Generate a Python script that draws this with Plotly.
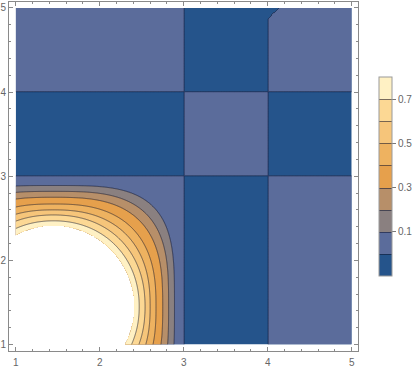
import numpy as np
import plotly.graph_objects as go

# ---------------- data ----------------
x_ticks = [1, 2, 3, 4, 5]
y_ticks = [1, 2, 3, 4, 5]
cbar_ticks = [0.1, 0.3, 0.5, 0.7]

# contour lines at 0.0 ... 0.7, colour bands from -0.1 to 0.8
line_start, line_end, line_step = 0.0, 0.7, 0.1
z_low, z_high = -0.1, 0.8

band_colors = ["#25548B", "#5B6C9B", "#8A8080", "#B78F69", "#E6A04C",
               "#EEB260", "#F6C57A", "#FCD894", "#FFF1C4"]

# piecewise-constant cells (boundaries at 3 and 4 on both axes)
x_breaks = [3.0, 4.0]
y_breaks = [3.0, 4.0]
cell_sign = np.array([[+1, -1, +1],
                      [-1, +1, -1],
                      [+1, -1, +1]])      # rows: y bands, cols: x bands
cell_value = 0.05
kink_y = 4.87                            # top of the x=4 boundary bends right

# bump in the lower-left cell: level, radius on the axis line, shape exponent
bump_center = 1.45
bump_levels = [0.8, 0.7, 0.6, 0.5, 0.4, 0.3, 0.2, 0.1]
bump_radius = [0.96, 1.02, 1.09, 1.15, 1.22, 1.30, 1.37, 1.44]
bump_shape = [2.0, 2.1, 2.2, 2.4, 2.6, 2.9, 3.2, 3.6]

# ---------------- build the field ----------------
xs = np.linspace(1, 5, 401)
ys = np.linspace(1, 5, 401)
X, Y = np.meshgrid(xs, ys)

ix = (X > x_breaks[0]).astype(int) + (X > x_breaks[1] + np.clip(Y - kink_y, 0, None)).astype(int)
iy = (Y > y_breaks[0]).astype(int) + (Y > y_breaks[1]).astype(int)
Z = cell_value * cell_sign[iy, ix].astype(float)

dx = np.abs(X - bump_center)
dy = np.abs(Y - bump_center)
H = np.stack([(dx ** p + dy ** p) ** (1.0 / p) / R for R, p in zip(bump_radius, bump_shape)])
lev = np.array(bump_levels)
bump = np.full(X.shape, np.nan)
outside_all = H[-1] >= 1
bump[outside_all] = np.maximum(cell_value, lev[-1] - (H[-1][outside_all] - 1) * 2.0)
for k in range(len(lev) - 1, 0, -1):
    sel = (H[k] < 1) & (H[k - 1] >= 1)
    t = (H[k - 1][sel] - 1) / (H[k - 1][sel] - H[k][sel])
    bump[sel] = lev[k - 1] + (lev[k] - lev[k - 1]) * t
# inside the highest contour -> above plotted range (left blank)
inner = (X < x_breaks[0]) & (Y < y_breaks[0])
Z[inner] = bump[inner]

n = len(band_colors) - 1
colorscale = [[i / n, c] for i, c in enumerate(band_colors)]

grey_axis = "#8a8a8a"
label_font = dict(family="Liberation Sans, Arial, sans-serif", size=10, color="#666666")

fig = go.Figure(go.Contour(
    x=xs, y=ys, z=Z,
    zmin=z_low, zmax=z_high, zauto=False,
    colorscale=colorscale,
    connectgaps=False,
    contours=dict(start=line_start, end=line_end, size=line_step,
                  coloring="fill", showlines=True),
    line=dict(color="rgba(15,20,45,0.55)", width=1, smoothing=0),
    hoverinfo="skip",
    colorbar=dict(
        x=1.06, xanchor="left", y=0.5, yanchor="middle",
        len=0.57, lenmode="fraction", thickness=13,
        xpad=0, ypad=0,
        outlinewidth=1, outlinecolor="#9a9a9a",
        tickmode="array", tickvals=cbar_ticks, tickformat=".1f",
        ticks="outside", ticklen=4, tickcolor="#777777",
        tickfont=label_font,
    ),
))

axis_common = dict(
    showline=True, linecolor=grey_axis, linewidth=1, mirror="allticks",
    ticks="inside", ticklen=4, tickcolor=grey_axis, tickwidth=1,
    tickmode="array", showgrid=False, zeroline=False,
    tickfont=label_font, automargin=False,
    minor=dict(ticks="inside", ticklen=2, tickcolor=grey_axis,
               tickmode="linear", tick0=1, dtick=0.2, showgrid=False),
)

fig.update_xaxes(range=[0.920, 5.075], tickvals=x_ticks, ticklabelstandoff=2, **axis_common)
fig.update_yaxes(range=[0.923, 5.071], tickvals=y_ticks, **axis_common)

fig.update_layout(
    template="none",
    width=420, height=369,
    margin=dict(l=9, r=62, t=2, b=18, pad=0),
    paper_bgcolor="white", plot_bgcolor="white",
    showlegend=False,
)

fig.write_html("out.html",
               config={"displayModeBar": False},
               post_script="document.body.style.margin='0';document.body.style.padding='0';")
